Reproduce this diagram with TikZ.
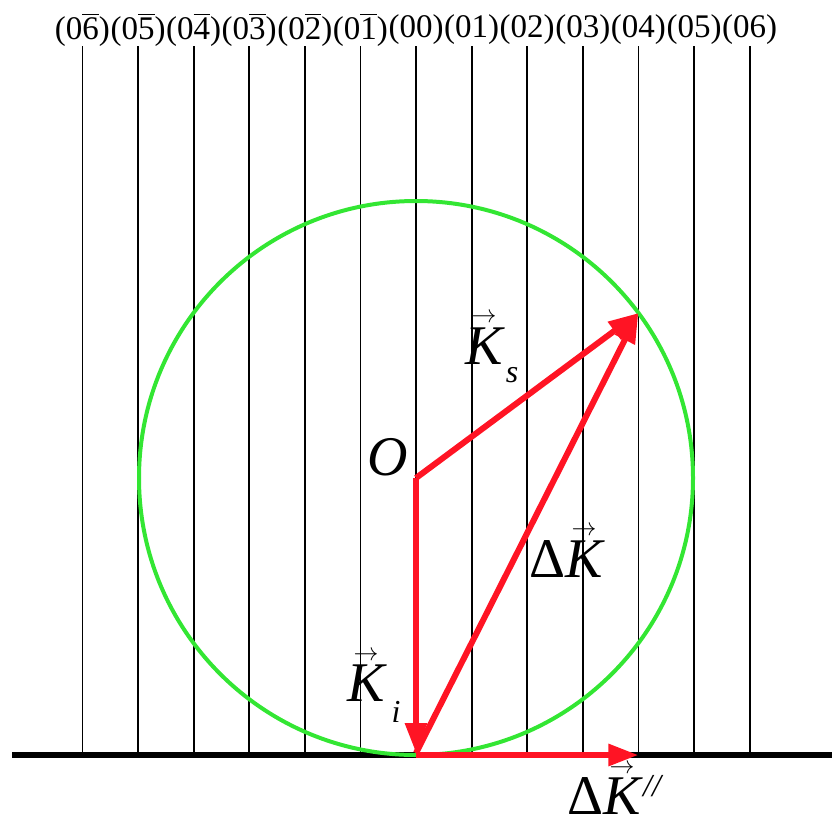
\documentclass[tikz,border=0pt]{standalone}
\usepackage{amsmath}
\usepackage{fontspec}
\setmainfont{Liberation Serif}
\usetikzlibrary{arrows.meta}
\definecolor{vecRed}{HTML}{FF1424}
\definecolor{ewaldGreen}{HTML}{33E633}
\newcommand{\ovl}[1]{$\overline{\mbox{#1}}$}
\newcommand{\vK}{$\overset{\scriptscriptstyle\rightarrow}{\mbox{\itshape K}}$}

\begin{document}
\begin{tikzpicture}[
    x=1pt, y=-1pt,
    rod/.style={line width=1.8pt},
    kvec/.style={vecRed, line width=6pt, -{Triangle[length=30pt,width=21pt]}},
    hkl/.style={font=\fontsize{33}{33}\selectfont, inner sep=0pt},
    sym/.style={font=\fontsize{56}{56}\selectfont, inner sep=0pt},
    sub/.style={font=\fontsize{32}{32}\selectfont\itshape, inner sep=0pt}
  ]
  \useasboundingbox (0,0) rectangle (832,828);

  % reciprocal lattice rods
  \foreach \k in {1,...,6} {
    \node[hkl] (rodm\k) at (416-55.6*\k,30) {(0\ovl{\k})};
    \node[hkl] (rodp\k) at (416+55.6*\k,30) {(0\k)};
    \draw[rod] (416-55.6*\k,46) -- (416-55.6*\k,755);
    \draw[rod] (416+55.6*\k,46) -- (416+55.6*\k,755);
  }
  \node[hkl] (rod0) at (416,30) {(00)};
  \draw[rod] (416,46) -- (416,755);

  % sample surface
  \draw[line width=6pt] (12,755) -- (832,755);

  % Ewald sphere
  \coordinate (O) at (416,478);
  \coordinate (B) at (416,753);
  \coordinate (S) at (638.4,313);
  \coordinate (P) at (638.4,755);
  \draw[ewaldGreen, line width=4pt] (O) circle (277);

  \draw[kvec] (O) -- (S);
  \draw[kvec] (O) -- (B);
  \draw[kvec] (B) -- (S);
  \draw[kvec] (B |- P) -- (P);

  \node[sym, font=\fontsize{56}{56}\selectfont\itshape] (lO) at (388,457) {O};
  \node[sym] (lKs) at (484,338) {\vK};
  \node[sub] (ls) at (512,375) {s};
  \node[sym] (lKi) at (366,675) {\vK};
  \node[sub] (li) at (396,712) {i};
  \node[sym] (ldK) at (566,551) {Δ\vK};
  \node[sym] (ldKp) at (604,788) {Δ\vK};
  \node[sub] (lpar) at (652,786) {//};
\end{tikzpicture}
\end{document}
